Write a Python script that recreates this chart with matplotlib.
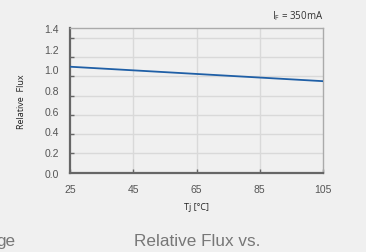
import matplotlib
matplotlib.use("Agg")
import matplotlib.pyplot as plt
import numpy as np

# data
tj = [25, 105]
flux = [1.025, 0.885]
y_labels = [0.0, 0.2, 0.4, 0.6, 0.8, 1.0, 1.2, 1.4]
x_ticks = [25, 45, 65, 85, 105]
# grid lines in the source sit a little off the labels
grid_y = [0.1865 * k for k in range(1, 8)]

bg = "#f0f0f0"
fig = plt.figure(figsize=(3.66, 2.53), dpi=100, facecolor=bg)
ax = fig.add_axes([0.1913, 0.3142, 0.6913, 0.5711], facecolor=bg)

ax.plot(tj, flux, color="#1f5fa6", lw=1.3, zorder=3)

ax.set_xlim(25, 105)
ax.set_ylim(0, 1.4)

ax.set_xticks(x_ticks)
ax.set_xticklabels([str(t) for t in x_ticks])
ax.set_yticks(y_labels)
ax.set_yticklabels([f"{v:.1f}" for v in y_labels])
ax.tick_params(axis="y", which="major", length=0, pad=8, labelsize=7.5, labelcolor="#555555")
ax.tick_params(axis="x", which="major", direction="in", length=3, width=1, color="#666666",
               pad=8, labelsize=7.5, labelcolor="#555555")

ax.set_yticks(grid_y, minor=True)
ax.tick_params(axis="y", which="minor", direction="in", length=3, width=1, color="#666666")
ax.grid(True, which="minor", axis="y", color="#d9d9d9", lw=1)
for x in x_ticks[1:-1]:
    ax.axvline(x, color="#d9d9d9", lw=1, zorder=1)

for s in ["left", "bottom"]:
    ax.spines[s].set_color("#666666")
    ax.spines[s].set_linewidth(1.6)
for s in ["right", "top"]:
    ax.spines[s].set_color("#aaaaaa")
    ax.spines[s].set_linewidth(1)

lab_font = ["Open Sans", "DejaVu Sans"]
ax.set_ylabel("Relative  Flux", fontsize=6.5, family=lab_font, color="#222222", labelpad=13)
ax.set_xlabel("Tj [°C]", fontsize=6.5, family=lab_font, color="#222222", labelpad=6)
ax.text(1.0, 1.04, "I$_\\mathregular{F}$ = 350mA", transform=ax.transAxes, ha="right", va="bottom",
        fontsize=7, family=lab_font, color="#333333")

fig.text(197 / 366, 1 - 242 / 253, "Relative Flux vs.", ha="center", va="center",
         fontsize=12.3, family="Liberation Sans", color="#777777")
fig.text(15 / 366, 1 - 242 / 253, "ge", ha="right", va="center",
         fontsize=12.3, family="Liberation Sans", color="#777777")

for lbl in ax.get_xticklabels() + ax.get_yticklabels():
    lbl.set_family("Liberation Sans")

fig.savefig("out.png", dpi=100, facecolor=bg)
